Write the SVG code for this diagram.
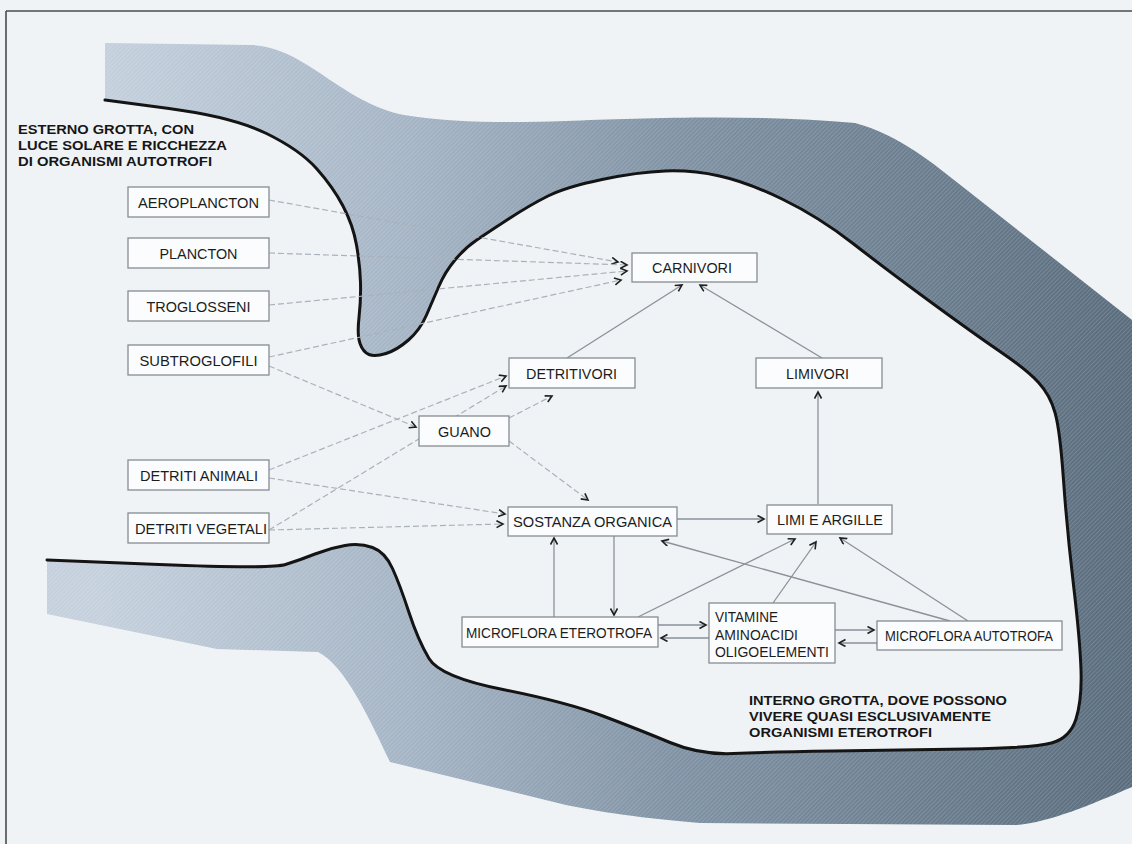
<svg xmlns="http://www.w3.org/2000/svg" width="1132" height="844" viewBox="0 0 1132 844">
<style>
.box{fill:#fbfcfd;stroke:#868c92;stroke-width:1.3}
.lbl{font-family:"Liberation Sans",Arial,sans-serif;font-size:14px;fill:#1c1c1c}
.title{font-family:"Liberation Sans",Arial,sans-serif;font-size:13.5px;font-weight:bold;fill:#161616}
.dash{fill:none;stroke:#a9b2bb;stroke-width:1.2;stroke-dasharray:6 3;marker-end:url(#arr)}
.solid{fill:none;stroke:#8a9198;stroke-width:1.3;marker-end:url(#arr)}
</style>
<defs>
<linearGradient id="rockGrad" gradientUnits="userSpaceOnUse" x1="100" y1="0" x2="1132" y2="0">
<stop offset="0" stop-color="#c3cfdc"/>
<stop offset="0.3" stop-color="#a2b2c3"/>
<stop offset="0.55" stop-color="#7d90a2"/>
<stop offset="1" stop-color="#56697a"/>
</linearGradient>
<pattern id="hatch" width="3" height="3" patternUnits="userSpaceOnUse" patternTransform="rotate(45)">
<rect width="1.3" height="3" fill="#ffffff" opacity="0.16"/>
</pattern>
<marker id="arr" markerWidth="10" markerHeight="10" refX="7" refY="4" orient="auto" markerUnits="userSpaceOnUse">
<path d="M0.5,0.5 L7,4 L0.5,7.5" fill="none" stroke="#202020" stroke-width="1.6"/>
</marker>
</defs>

<rect x="0" y="0" width="1132" height="844" fill="#f0f3f6"/>

<g id="rock">
<path id="rockShape" d="M105,43 L250,45 C305,46 340,102 404,115 C450,123 510,123 566,121 C640,118 760,114 855,123 C900,135 935,165 963,187 L1132,320 L1132,787 C1090,805 1050,822 1017,825 L700,823 C640,818 600,812 566,805 L390,762 C370,720 345,665 318,652 L217,649 L47,614 L47,560 L159,564.5 Q271,569 285.5,564.5 Q300,560 315,554 Q330,548 345,545.5 Q360,543 372.5,547.5 Q385,552 392.5,568.5 Q400,585 409,612.5 Q418,640 429,658.5 Q440,677 503,689.5 Q566,702 603,716 Q640,730 670,742.5 Q700,755 733.5,753.5 Q767,752 833.5,751 Q900,750 966.5,749 Q1033,748 1051.5,743 Q1070,738 1076,719 Q1082,700 1081,670 Q1080,640 1073.5,585 Q1067,530 1063.5,480 Q1060,430 1055,412.5 Q1050,395 1038.5,382.5 Q1027,370 1000,351.5 Q973,333 930,301.5 Q887,270 853,243.5 Q819,217 783,199.5 Q747,182 719.5,176 Q692,170 665,171 Q638,172 602,179.5 Q566,187 548,196 Q530,205 508.5,219 Q487,233 476,240.5 Q465,248 455,260 Q445,272 439,286 Q433,300 426.5,315 Q420,330 408.5,340 Q397,350 386,353.5 Q375,357 369,354.5 Q363,352 360,343.5 Q357,335 359,317.5 Q361,300 360.5,282.5 Q360,265 356.5,245 Q353,225 343,206 Q333,187 316.5,168.5 Q300,150 266.5,133.5 Q233,117 169,108.5 L105,100 Z" fill="url(#rockGrad)"/>
<path d="M105,43 L250,45 C305,46 340,102 404,115 C450,123 510,123 566,121 C640,118 760,114 855,123 C900,135 935,165 963,187 L1132,320 L1132,787 C1090,805 1050,822 1017,825 L700,823 C640,818 600,812 566,805 L390,762 C370,720 345,665 318,652 L217,649 L47,614 L47,560 L159,564.5 Q271,569 285.5,564.5 Q300,560 315,554 Q330,548 345,545.5 Q360,543 372.5,547.5 Q385,552 392.5,568.5 Q400,585 409,612.5 Q418,640 429,658.5 Q440,677 503,689.5 Q566,702 603,716 Q640,730 670,742.5 Q700,755 733.5,753.5 Q767,752 833.5,751 Q900,750 966.5,749 Q1033,748 1051.5,743 Q1070,738 1076,719 Q1082,700 1081,670 Q1080,640 1073.5,585 Q1067,530 1063.5,480 Q1060,430 1055,412.5 Q1050,395 1038.5,382.5 Q1027,370 1000,351.5 Q973,333 930,301.5 Q887,270 853,243.5 Q819,217 783,199.5 Q747,182 719.5,176 Q692,170 665,171 Q638,172 602,179.5 Q566,187 548,196 Q530,205 508.5,219 Q487,233 476,240.5 Q465,248 455,260 Q445,272 439,286 Q433,300 426.5,315 Q420,330 408.5,340 Q397,350 386,353.5 Q375,357 369,354.5 Q363,352 360,343.5 Q357,335 359,317.5 Q361,300 360.5,282.5 Q360,265 356.5,245 Q353,225 343,206 Q333,187 316.5,168.5 Q300,150 266.5,133.5 Q233,117 169,108.5 L105,100 Z" fill="url(#hatch)"/>
<path id="caveWall" d="M105,100 L169,108.5 Q233,117 266.5,133.5 Q300,150 316.5,168.5 Q333,187 343,206 Q353,225 356.5,245 Q360,265 360.5,282.5 Q361,300 359,317.5 Q357,335 360,343.5 Q363,352 369,354.5 Q375,357 386,353.5 Q397,350 408.5,340 Q420,330 426.5,315 Q433,300 439,286 Q445,272 455,260 Q465,248 476,240.5 Q487,233 508.5,219 Q530,205 548,196 Q566,187 602,179.5 Q638,172 665,171 Q692,170 719.5,176 Q747,182 783,199.5 Q819,217 853,243.5 Q887,270 930,301.5 Q973,333 1000,351.5 Q1027,370 1038.5,382.5 Q1050,395 1055,412.5 Q1060,430 1063.5,480 Q1067,530 1073.5,585 Q1080,640 1081,670 Q1082,700 1076,719 Q1070,738 1051.5,743 Q1033,748 966.5,749 Q900,750 833.5,751 Q767,752 733.5,753.5 Q700,755 670,742.5 Q640,730 603,716 Q566,702 503,689.5 Q440,677 429,658.5 Q418,640 409,612.5 Q400,585 392.5,568.5 Q385,552 372.5,547.5 Q360,543 345,545.5 Q330,548 315,554 Q300,560 285.5,564.5 Q271,569 159,564.5 L47,560" fill="none" stroke="#141414" stroke-width="3" stroke-linejoin="round" stroke-linecap="round"/>
</g>

<g id="frame" stroke="#4a4a4a" stroke-width="1.6" fill="none">
<line x1="6" y1="11" x2="1132" y2="11"/>
<line x1="6" y1="11" x2="6" y2="844"/>
</g>

<g id="labels">
<text class="title" x="18" y="134" textLength="176" lengthAdjust="spacingAndGlyphs">ESTERNO GROTTA, CON</text>
<text class="title" x="18" y="150" textLength="209" lengthAdjust="spacingAndGlyphs">LUCE SOLARE E RICCHEZZA</text>
<text class="title" x="18" y="166" textLength="194" lengthAdjust="spacingAndGlyphs">DI ORGANISMI AUTOTROFI</text>
<text class="title" x="749" y="705" textLength="258" lengthAdjust="spacingAndGlyphs">INTERNO GROTTA, DOVE POSSONO</text>
<text class="title" x="749" y="721" textLength="242" lengthAdjust="spacingAndGlyphs">VIVERE QUASI ESCLUSIVAMENTE</text>
<text class="title" x="749" y="737" textLength="183" lengthAdjust="spacingAndGlyphs">ORGANISMI ETEROTROFI</text>
</g>

<g id="connectors">
<line class="dash" x1="269" y1="200" x2="618" y2="262"/>
<line class="dash" x1="269" y1="253" x2="627" y2="265"/>
<line class="dash" x1="269" y1="305" x2="627" y2="271"/>
<line class="dash" x1="269" y1="357" x2="621" y2="280"/>
<line class="dash" x1="269" y1="366" x2="416" y2="427"/>
<line class="dash" x1="269" y1="470" x2="506" y2="376"/>
<line class="dash" x1="269" y1="530" x2="506" y2="386"/>
<line class="dash" x1="509" y1="418" x2="552" y2="396"/>
<line class="dash" x1="509" y1="441" x2="588" y2="500"/>
<line class="dash" x1="269" y1="478" x2="505" y2="514"/>
<line class="dash" x1="269" y1="530" x2="503" y2="524"/>
<line class="solid" x1="567" y1="358" x2="682" y2="285"/>
<line class="solid" x1="822" y1="358" x2="700" y2="285"/>
<line class="solid" x1="818" y1="504" x2="818" y2="392"/>
<line class="solid" x1="677" y1="519" x2="764" y2="519"/>
<line class="solid" x1="614" y1="536" x2="614" y2="615"/>
<line class="solid" x1="554" y1="617" x2="554" y2="538"/>
<line class="solid" x1="638" y1="617" x2="795" y2="539"/>
<line class="solid" x1="773" y1="603" x2="816" y2="542"/>
<line class="solid" x1="968" y1="621" x2="840" y2="538"/>
<line class="solid" x1="950" y1="621" x2="662" y2="541"/>
<line class="solid" x1="658" y1="625" x2="706" y2="625"/>
<line class="solid" x1="709" y1="638" x2="661" y2="638"/>
<line class="solid" x1="835" y1="630" x2="874" y2="630"/>
<line class="solid" x1="877" y1="643" x2="839" y2="643"/>
</g>

<g id="aeroplancton"><rect class="box" x="128" y="187" width="141" height="30"/><text class="lbl" x="198.5" y="207.5" text-anchor="middle" textLength="121" lengthAdjust="spacingAndGlyphs">AEROPLANCTON</text></g>
<g id="plancton"><rect class="box" x="128" y="238" width="141" height="30"/><text class="lbl" x="198.5" y="258.5" text-anchor="middle" textLength="78" lengthAdjust="spacingAndGlyphs">PLANCTON</text></g>
<g id="troglosseni"><rect class="box" x="128" y="291" width="141" height="30"/><text class="lbl" x="198.5" y="311.5" text-anchor="middle" textLength="104" lengthAdjust="spacingAndGlyphs">TROGLOSSENI</text></g>
<g id="subtroglofili"><rect class="box" x="128" y="345" width="141" height="30"/><text class="lbl" x="198.5" y="365.5" text-anchor="middle" textLength="118" lengthAdjust="spacingAndGlyphs">SUBTROGLOFILI</text></g>
<g id="detriti-animali"><rect class="box" x="128" y="460" width="141" height="30"/><text class="lbl" x="199" y="480.5" text-anchor="middle" textLength="118" lengthAdjust="spacingAndGlyphs">DETRITI ANIMALI</text></g>
<g id="detriti-vegetali"><rect class="box" x="128" y="513" width="141" height="30"/><text class="lbl" x="201" y="533.5" text-anchor="middle" textLength="132" lengthAdjust="spacingAndGlyphs">DETRITI VEGETALI</text></g>
<g id="carnivori"><rect class="box" x="632" y="253" width="125" height="29"/><text class="lbl" x="692" y="273" text-anchor="middle" textLength="80" lengthAdjust="spacingAndGlyphs">CARNIVORI</text></g>
<g id="detritivori"><rect class="box" x="509" y="358" width="126" height="30"/><text class="lbl" x="571.5" y="378.5" text-anchor="middle" textLength="91" lengthAdjust="spacingAndGlyphs">DETRITIVORI</text></g>
<g id="limivori"><rect class="box" x="756" y="358" width="126" height="30"/><text class="lbl" x="817.5" y="378.5" text-anchor="middle" textLength="63" lengthAdjust="spacingAndGlyphs">LIMIVORI</text></g>
<g id="guano"><rect class="box" x="419" y="416" width="90" height="30"/><text class="lbl" x="464.5" y="436.5" text-anchor="middle" textLength="53" lengthAdjust="spacingAndGlyphs">GUANO</text></g>
<g id="sostanza-organica"><rect class="box" x="508" y="507" width="169" height="29"/><text class="lbl" x="592.5" y="527" text-anchor="middle" textLength="159" lengthAdjust="spacingAndGlyphs">SOSTANZA ORGANICA</text></g>
<g id="limi-e-argille"><rect class="box" x="767" y="505" width="125" height="29"/><text class="lbl" x="830" y="525" text-anchor="middle" textLength="106" lengthAdjust="spacingAndGlyphs">LIMI E ARGILLE</text></g>
<g id="microflora-eterotrofa"><rect class="box" x="462" y="617" width="196" height="30"/><text class="lbl" x="559" y="637.5" text-anchor="middle" textLength="186" lengthAdjust="spacingAndGlyphs">MICROFLORA ETEROTROFA</text></g>
<g id="vitamine"><rect class="box" x="709" y="603" width="126" height="60"/><text class="lbl" x="715" y="622" textLength="63" lengthAdjust="spacingAndGlyphs">VITAMINE</text><text class="lbl" x="715" y="639.5" textLength="83" lengthAdjust="spacingAndGlyphs">AMINOACIDI</text><text class="lbl" x="715" y="657" textLength="114" lengthAdjust="spacingAndGlyphs">OLIGOELEMENTI</text></g>
<g id="microflora-autotrofa"><rect class="box" x="877" y="621" width="185" height="29"/><text class="lbl" x="969" y="641" text-anchor="middle" textLength="168" lengthAdjust="spacingAndGlyphs">MICROFLORA AUTOTROFA</text></g>
</svg>
